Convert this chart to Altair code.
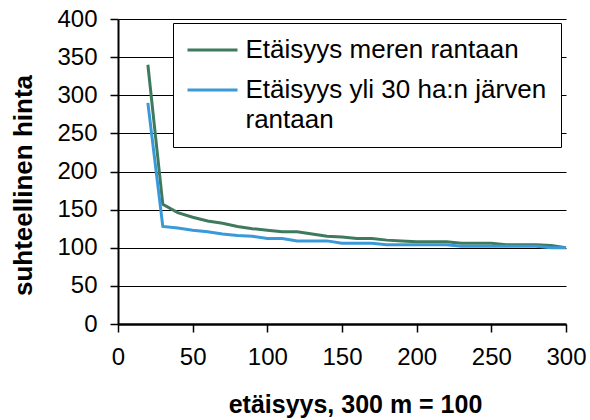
import altair as alt
import pandas as pd

distance = [20, 30, 40, 50, 60, 70, 80, 90, 100, 110, 120, 130, 140, 150, 160,
            170, 180, 190, 200, 210, 220, 230, 240, 250, 260, 270, 280, 290, 300]
sea = [340, 157, 146, 140, 135, 132, 128, 125, 123, 121, 121, 118, 115, 114, 112,
       112, 110, 109, 108, 108, 108, 106, 106, 106, 104, 104, 104, 103, 100]
lake = [290, 128, 126, 123, 121, 118, 116, 115, 112, 112, 109, 109, 109, 106, 106,
        106, 104, 104, 104, 104, 104, 102, 102, 102, 102, 102, 102, 100, 100]
series_names = ["Etäisyys meren rantaan", "Etäisyys yli 30 ha:n järven rantaan"]
series_colors = ["#3F7A5E", "#3A9AD9"]
x_ticks = [0, 50, 100, 150, 200, 250, 300]
y_ticks = [0, 50, 100, 150, 200, 250, 300, 350, 400]

rows = []
for name, vals in zip(series_names, [sea, lake]):
    for d, v in zip(distance, vals):
        rows.append({"x": d, "y": v, "s": name})
df = pd.DataFrame(rows)

FONT = "Liberation Sans"

chart = alt.Chart(df).mark_line(strokeWidth=3).encode(
    x=alt.X("x:Q",
            scale=alt.Scale(domain=[0, 300], nice=False),
            axis=alt.Axis(values=x_ticks, grid=False, title="etäisyys, 300 m = 100",
                          domainColor="black", domainWidth=2.5,
                          tickColor="black", tickWidth=1.5, tickSize=8,
                          labelFont=FONT, labelFontSize=24, labelColor="black",
                          labelPadding=13, labelFlush=False,
                          titleFont=FONT, titleFontSize=25, titleFontWeight="bold",
                          titleColor="black", titleX=237, titleY=80,
                          titleBaseline="middle", titleAlign="center")),
    y=alt.Y("y:Q",
            scale=alt.Scale(domain=[0, 400], nice=False),
            axis=alt.Axis(values=y_ticks, grid=True, gridColor="black", gridWidth=1,
                          gridOpacity=1, title="suhteellinen hinta",
                          domainColor="black", domainWidth=2,
                          tickColor="black", tickWidth=1.5, tickSize=8,
                          labelFont=FONT, labelFontSize=24, labelColor="black",
                          labelPadding=13,
                          titleFont=FONT, titleFontSize=26, titleFontWeight="bold",
                          titleColor="black", titleX=-95, titleY=166,
                          titleBaseline="middle", titleAlign="center", titleAngle=-90)),
    color=alt.Color("s:N",
                    scale=alt.Scale(domain=series_names, range=series_colors),
                    legend=alt.Legend(
                        title=None, orient="none", legendX=55, legendY=4,
                        fillColor="white", strokeColor="black", padding=14,
                        symbolType="M-2.5,0L2.5,0", symbolSize=400, symbolStrokeWidth=3,
                        symbolOffset=12.5,
                        labelFont=FONT, labelFontSize=26, labelColor="black",
                        labelOffset=20, rowPadding=14, labelLimit=600,
                        labelExpr="datum.label == 'Etäisyys yli 30 ha:n järven rantaan' ? ['Etäisyys yli 30 ha:n järven', 'rantaan'] : datum.label")),
).properties(
    width=448, height=305,
    autosize=alt.AutoSizeParams(type="none"),
    padding={"left": 118, "top": 19, "right": 24, "bottom": 96},
).configure(
    style={"guide-label": {"lineHeight": 30}}
).configure_view(stroke=None)

chart.save("out.html", embed_options={"renderer": "svg", "actions": False})
